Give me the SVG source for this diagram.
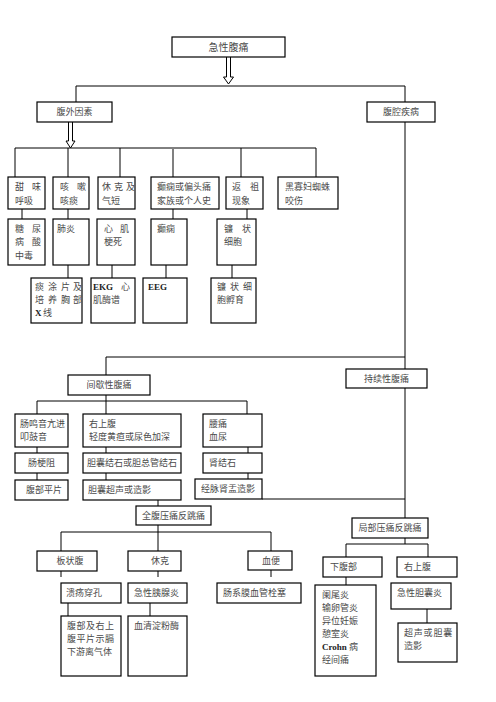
<svg xmlns="http://www.w3.org/2000/svg" width="496" height="702" viewBox="0 0 496 702">
<style>
.b{fill:#fff;stroke:#000;stroke-width:1.2}
.c{stroke:#000;stroke-width:1;fill:none}
.g{stroke:#808080;stroke-width:2;fill:none}
.a{fill:#fff;stroke:#000;stroke-width:1}
text{font-family:"Liberation Serif","Noto Sans CJK SC",serif;font-size:9px;fill:#4a4a4a}
.t{font-size:10px}
.m{text-anchor:middle}
.k{font-weight:bold;fill:#222}
</style>
<rect width="496" height="702" fill="#fff"/>
<g id="connectors">
<path class="a" d="M226.5,57 V77 H223.5 L228.5,84 L233.5,77 H230.5 V57"/>
<path class="c" d="M76,86 H405 M76,86 V102 M405,86 V102"/>
<path class="a" d="M68.5,122 V141 H66 L70.5,148 L75,141 H72.5 V122"/>
<path class="c" d="M15,148 H316 M15,148 V177 M68,148 V177 M120,148 V177 M241,148 V177 M316,148 V177"/>
<path class="g" d="M173,148 V177 M173,209 V219"/>
<path class="c" d="M22,209 V219 M68,209 V219 M247,209 V219"/>
<path class="c" d="M68,265 V278 M112,265 V278 M166,265 V278 M232,265 V278"/>
<path class="c" d="M405,122 V369 M106,357 H405 M106,357 V375"/>
<path class="c" d="M37,401 H247 M37,401 V414 M106,395 V414 M247,401 V414"/>
<path class="c" d="M37,447 V453 M37,473 V480 M106,447 V453 M106,473 V480 M248,447 V453 M248,473 V479"/>
<path class="c" d="M405,388 V518 M262,499 H405 M158,500 V506"/>
<path class="c" d="M61,532 H271 M61,532 V551 M158,525 V551 M271,532 V551"/>
<path class="c" d="M61,571 V577 M158,571 V577 M271,570 V577 M68,603 V616 M150,603 V616"/>
<path class="c" d="M405,538 V544 M346,544 H428 M346,544 V557 M428,544 V557 M346,577 V585 M427,609 V623"/>
</g>
<g id="n1"><rect class="b" x="172" y="37" width="113" height="20"/><text class="t m" x="228.5" y="51">急性腹痛</text></g>
<g id="n2"><rect class="b" x="37" y="102" width="75" height="20"/><text class="m" x="74.5" y="115">腹外因素</text></g>
<g id="n3"><rect class="b" x="367" y="102" width="68" height="20"/><text class="m" x="401" y="115">腹腔疾病</text></g>
<g id="r1a"><rect class="b" x="8" y="177" width="37" height="32"/><text x="15 32" y="190">甜味</text><text x="15" y="204">呼吸</text></g>
<g id="r1b"><rect class="b" x="53" y="177" width="36" height="32"/><text x="60 77" y="190">咳嗽</text><text x="60" y="204">咳痰</text></g>
<g id="r1c"><rect class="b" x="98" y="177" width="37" height="32"/><text x="102 114 126" y="190">休克及</text><text x="102" y="204">气短</text></g>
<g id="r1d"><rect class="b" x="151" y="177" width="68" height="32"/><text x="157" y="190">癫痫或偏头痛</text><text x="157" y="204">家族或个人史</text></g>
<g id="r1e"><rect class="b" x="226" y="177" width="37" height="32"/><text x="232 250" y="190">返祖</text><text x="232" y="204">现象</text></g>
<g id="r1f"><rect class="b" x="278" y="177" width="60" height="32"/><text x="285" y="190">黑寡妇蜘蛛</text><text x="285" y="204">咬伤</text></g>
<g id="r2a"><rect class="b" x="8" y="219" width="37" height="46"/><text x="15 32" y="232">糖尿</text><text x="15 32" y="245">病酸</text><text x="15" y="259">中毒</text></g>
<g id="r2b"><rect class="b" x="53" y="219" width="36" height="46"/><text x="57" y="232">肺炎</text></g>
<g id="r2c"><rect class="b" x="97" y="219" width="38" height="46"/><text x="104 120" y="232">心肌</text><text x="104" y="245">梗死</text></g>
<g id="r2d"><rect class="b" x="151" y="219" width="36" height="46"/><text x="157" y="232">癫痫</text></g>
<g id="r2e"><rect class="b" x="217" y="219" width="39" height="46"/><text x="224 242" y="232">镰状</text><text x="224" y="245">细胞</text></g>
<g id="r3a"><rect class="b" x="31" y="278" width="51" height="45"/><text x="35 48 61 73" y="290">痰涂片及</text><text x="35 48 61 73" y="303">培养胸部</text><text y="316"><tspan class="k" x="35">X</tspan><tspan x="43">线</tspan></text></g>
<g id="r3b"><rect class="b" x="91" y="278" width="44" height="45"/><text y="290"><tspan class="k" x="93">EKG</tspan><tspan x="121">心</tspan></text><text x="93" y="303">肌酶谱</text></g>
<g id="r3c"><rect class="b" x="143" y="278" width="44" height="45"/><text class="k" x="148" y="290">EEG</text></g>
<g id="r3d"><rect class="b" x="211" y="278" width="45" height="45"/><text x="217 230 243" y="290">镰状细</text><text x="217" y="303">胞孵育</text></g>
<g id="n4"><rect class="b" x="68" y="375" width="82" height="20"/><text class="m" x="109" y="388">间歇性腹痛</text></g>
<g id="n5"><rect class="b" x="346" y="369" width="81" height="19"/><text class="m" x="386.5" y="382">持续性腹痛</text></g>
<g id="i1"><rect class="b" x="15" y="414" width="53" height="33"/><text x="20" y="427">肠鸣音亢进</text><text x="20" y="440">叩鼓音</text></g>
<g id="i2"><rect class="b" x="83" y="414" width="98" height="33"/><text x="89" y="427">右上腹</text><text x="89" y="440">轻度黄疸或尿色加深</text></g>
<g id="i3"><rect class="b" x="203" y="414" width="59" height="33"/><text x="209" y="427">腰痛</text><text x="209" y="440">血尿</text></g>
<g id="i4"><rect class="b" x="15" y="453" width="53" height="20"/><text class="m" x="41.5" y="466">肠梗阻</text></g>
<g id="i5"><rect class="b" x="83" y="453" width="98" height="20"/><text x="87" y="466">胆囊结石或胆总管结石</text></g>
<g id="i6"><rect class="b" x="203" y="453" width="59" height="20"/><text x="209" y="466">肾结石</text></g>
<g id="i7"><rect class="b" x="15" y="480" width="53" height="20"/><text class="m" x="44" y="493">腹部平片</text></g>
<g id="i8"><rect class="b" x="83" y="480" width="98" height="20"/><text x="88" y="493">胆囊超声或造影</text></g>
<g id="i9"><rect class="b" x="195" y="479" width="67" height="20"/><text x="201" y="492">经脉肾盂造影</text></g>
<g id="n6"><rect class="b" x="136" y="506" width="75" height="19"/><text class="m" x="173.5" y="519">全腹压痛反跳痛</text></g>
<g id="n7"><rect class="b" x="352" y="518" width="76" height="20"/><text class="m" x="390" y="531">局部压痛反跳痛</text></g>
<g id="f1"><rect class="b" x="37" y="551" width="60" height="20"/><text class="m" x="70" y="564">板状腹</text></g>
<g id="f2"><rect class="b" x="128" y="551" width="53" height="20"/><text class="m" x="160" y="564">休克</text></g>
<g id="f3"><rect class="b" x="248" y="551" width="44" height="19"/><text class="m" x="271" y="564">血便</text></g>
<g id="f4"><rect class="b" x="61" y="583" width="60" height="20"/><text x="66" y="596">溃疡穿孔</text></g>
<g id="f5"><rect class="b" x="128" y="583" width="59" height="20"/><text x="134" y="596">急性胰腺炎</text></g>
<g id="f6"><rect class="b" x="217" y="583" width="84" height="20"/><text x="223" y="596">肠系膜血管栓塞</text></g>
<g id="f7"><rect class="b" x="61" y="616" width="60" height="60"/><text x="67" y="629" letter-spacing="0.5">腹部及右上</text><text x="67" y="642" letter-spacing="0.5">腹平片示膈</text><text x="67" y="655">下游离气体</text></g>
<g id="f8"><rect class="b" x="128" y="616" width="59" height="60"/><text x="134" y="629">血清淀粉酶</text></g>
<g id="l1"><rect class="b" x="323" y="557" width="59" height="20"/><text x="330" y="570">下腹部</text></g>
<g id="l2"><rect class="b" x="397" y="557" width="60" height="20"/><text x="404" y="570">右上腹</text></g>
<g id="l3"><rect class="b" x="315" y="585" width="61" height="91"/><text x="322" y="598">阑尾炎</text><text x="322" y="611">输卵管炎</text><text x="322" y="624">异位妊娠</text><text x="322" y="637">憩室炎</text><text y="650"><tspan class="k" x="322">Crohn</tspan><tspan x="349">病</tspan></text><text x="322" y="663">经间痛</text></g>
<g id="l4"><rect class="b" x="391" y="583" width="60" height="26"/><text x="397" y="596">急性胆囊炎</text></g>
<g id="l5"><rect class="b" x="398" y="623" width="59" height="39"/><text x="404" y="636" letter-spacing="0.8">超声或胆囊</text><text x="404" y="649">造影</text></g>
</svg>
